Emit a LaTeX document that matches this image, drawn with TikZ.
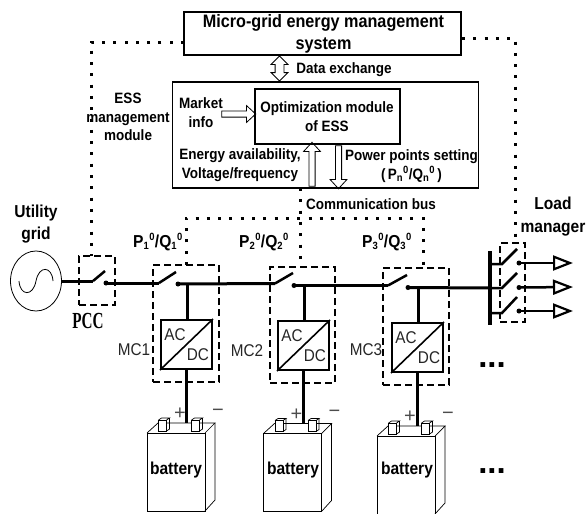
\documentclass[tikz,border=0pt]{standalone}
\usepackage{fontspec}
\setmainfont{Liberation Sans}
\usetikzlibrary{arrows.meta,shapes.arrows,shapes.geometric}
\newcommand{\pq}[1]{P$_{\mbox{\fontsize{10.5}{10.5}\selectfont\bfseries #1}}$$^{\mbox{\fontsize{10.5}{10.5}\selectfont\bfseries 0}}$/Q$_{\mbox{\fontsize{10.5}{10.5}\selectfont\bfseries #1}}$$^{\mbox{\fontsize{10.5}{10.5}\selectfont\bfseries 0}}$}
\tikzset{
  lbl/.style={font=\fontsize{15}{18.5}\selectfont\bfseries,align=center,inner sep=0pt,xscale=.9},
  biglbl/.style={font=\fontsize{17.3}{22.5}\selectfont\bfseries,align=center,inner sep=0pt,xscale=.9},
  plainlbl/.style={font=\fontsize{17}{18}\selectfont,inner sep=0pt,text=black!85,xscale=.9},
  mainbox/.style={draw,line width=1.5pt,inner sep=0pt},
  dashbox/.style={draw,dash pattern=on 7pt off 4pt,line width=1.2pt,inner sep=0pt},
  convbox/.style={draw,line width=2pt,inner sep=0pt,minimum width=51pt,minimum height=49pt},
  dotbus/.style={line width=3pt,dash pattern=on 3pt off 8.3pt},
  power/.style={line width=3pt},
  blade/.style={line width=2.5pt},
  contact/.style={circle,fill,inner sep=0pt,minimum size=5pt},
  blockarrow/.style={draw,single arrow,inner xsep=0pt,inner ysep=2.7pt,outer sep=0pt,line width=.8pt,minimum width=16pt,single arrow head extend=5.3pt,single arrow tip angle=85},
  loadtip/.style={line width=2.5pt,-{Triangle[open,length=20pt,width=15pt,line width=2.2pt]}},
  terminal/.pic={
    \draw[line width=.7pt,fill=white] (0,0) rectangle (8,11);
    \draw[line width=.7pt] (0,0) -- (3,-2) -- (11,-2) -- (8,0);
    \draw[line width=.7pt] (11,-2) -- (11,9) -- (8,11);
  },
  battery/.pic={
    \draw[line width=.9pt] (0,0) rectangle (58,78);
    \draw[line width=.7pt] (0,0) -- (11,-10) -- (68,-10) -- (58,0);
    \draw[line width=.7pt] (68,-10) -- (68,67) -- (58,78);
    \path (11.5,-13) pic {terminal};
    \path (44.5,-13) pic {terminal};
    \node[font=\fontsize{20}{20}\selectfont,inner sep=0pt,text=black!70] at (33,-19) {+};
    \node[font=\fontsize{20}{20}\selectfont,inner sep=0pt,text=black!70] at (71,-20) {\char"2212};
  }
}
\begin{document}
\begin{tikzpicture}[x=1pt,y=-1pt]
  \useasboundingbox (0,0) rectangle (587,514);

  \draw (322.5,33.5) node[mainbox,minimum width=277pt,minimum height=43pt] (ems) {};
  \draw (323.5,34) node[font=\fontsize{18}{22}\selectfont\bfseries,align=center,inner sep=0pt,xscale=.9] (emstext) {Micro-grid energy management\\system};
  \draw (325.5,135) node[mainbox,minimum width=306pt,minimum height=106pt] (ess) {};
  \draw (327.5,116.5) node[mainbox,minimum width=145pt,minimum height=55pt] (optim) {};
  \draw (327,116.5) node[lbl] (optimtext) {Optimization module\\of ESS};

  \draw (344,70) node[lbl] (exchange) {Data exchange};
  \draw (201,112.5) node[lbl] (market) {Market\\info};
  \draw (128,117) node[lbl] (module) {ESS\\management\\module};
  \draw (240,165) node[lbl] (energy) {Energy availability,\\Voltage/frequency};
  \draw (411.5,166) node[lbl] (setting) {Power points setting\\(\,\pq{n}\,)};
  \draw (371,204) node[lbl] (commbus) {Communication bus};

  \draw (279.5,68.5) node[draw,double arrow,inner xsep=0pt,inner ysep=4pt,outer sep=0pt,line width=.8pt,minimum width=16pt,minimum height=25pt,double arrow head extend=4pt,rotate=90] (dataarrow) {};
  \draw (237,114) node[blockarrow,minimum height=34pt] (marketarrow) {};
  \draw (312,166) node[blockarrow,minimum height=44pt,rotate=90] (availarrow) {};
  \draw (338.5,165.5) node[blockarrow,minimum height=43pt,rotate=-90] (setarrow) {};

  \draw (36,281) node[ellipse,draw,line width=.8pt,minimum width=51pt,minimum height=60pt,inner sep=0pt] (source) {};
  \draw[line width=.8pt] (19,281) .. controls (20,296) and (33,297) .. (36,281) .. controls (39,265) and (52,266) .. (53,281);
  \draw (36,224) node[biglbl] (utility) {Utility\\grid};
  \draw (97,280.5) node[dashbox,minimum width=36pt,minimum height=49pt] (pccbox) {};
  \draw (88,321) node[font=\fontsize{23}{23}\selectfont\bfseries,inner sep=0pt,xscale=.66] (pcc) {\fontspec{Liberation Serif}PCC};

  \draw (186,323.5) node[dashbox,minimum width=66pt,minimum height=117pt] (mc1) {};
  \draw (302.5,325) node[dashbox,minimum width=65pt,minimum height=116pt] (mc2) {};
  \draw (416,326.5) node[dashbox,minimum width=66pt,minimum height=117pt] (mc3) {};
  \draw (512.5,282.5) node[dashbox,minimum width=25pt,minimum height=79pt] (loadbox) {};

  \draw (134,350) node[plainlbl] (mclabel1) {MC1};
  \draw (247,351) node[plainlbl] (mclabel2) {MC2};
  \draw (366,350) node[plainlbl] (mclabel3) {MC3};

  \draw (186.5,344.5) node[convbox] (conv1) {};
  \draw (303.5,345.5) node[convbox] (conv2) {};
  \draw (417.5,347.5) node[convbox] (conv3) {};
  \path[-,line width=1.6pt] (conv1.south west) edge (conv1.north east);
  \path[-,line width=1.6pt] (conv2.south west) edge (conv2.north east);
  \path[-,line width=1.6pt] (conv3.south west) edge (conv3.north east);
  \draw (175,335) node[plainlbl] (ac1) {AC};
  \draw (198,355) node[plainlbl] (dc1) {DC};
  \draw (292,336) node[plainlbl] (ac2) {AC};
  \draw (315,356) node[plainlbl] (dc2) {DC};
  \draw (406,338) node[plainlbl] (ac3) {AC};
  \draw (429,358) node[plainlbl] (dc3) {DC};

  % dotted signal lines
  \coordinate (emsleft) at (184,42);
  \coordinate (pcctop) at (91,256);
  \coordinate (emsright) at (462,38);
  \coordinate (loadtop) at (515,243);
  \coordinate (busleft) at (186,218);
  \coordinate (busright) at (423,218);
  \coordinate (mctop1) at (186,265);
  \coordinate (mctop2) at (300.5,267);
  \coordinate (mctop3) at (423,268);
  \coordinate (esstap) at (300.5,188);
  \draw[dotbus] (emsleft) -| (pcctop);
  \draw[dotbus] (emsright) -| (loadtop);
  \draw[dotbus] (mctop1) -- (busleft) -- (busright) -- (mctop3);
  \path[dotbus] (esstap) edge (mctop2);

  % power line and switches
  \coordinate (pccin) at (93,281);
  \coordinate (pccend) at (105,271);
  \coordinate (sw1in) at (159,283);
  \coordinate (sw1end) at (176,272);
  \coordinate (sw2in) at (275,283.5);
  \coordinate (sw2end) at (293,273);
  \coordinate (sw3in) at (388,285.5);
  \coordinate (sw3end) at (407,275);
  \draw (106,283) node[contact] (pccdot) {};
  \draw (178,284) node[contact] (dot1) {};
  \draw (294,285.5) node[contact] (dot2) {};
  \draw (408,287.5) node[contact] (dot3) {};
  \draw (489.5,288) node[minimum width=4pt,minimum height=74pt,fill,inner sep=0pt] (loadbar) {};
  \draw[power] (source.east) -- (pccin);
  \draw[blade] (pccin) -- (pccend);
  \draw[power] (pccdot.center) -- (sw1in);
  \draw[blade] (sw1in) -- (sw1end);
  \draw[power] (dot1.center) -- (sw2in);
  \draw[blade] (sw2in) -- (sw2end);
  \draw[power] (dot2.center) -- (sw3in);
  \draw[blade] (sw3in) -- (sw3end);
  \draw[power] (dot3.center) -- (loadbar.center);

  % load feeders
  \coordinate (rowa) at (502,264);
  \coordinate (rowb) at (502,288);
  \coordinate (rowc) at (502,313);
  \coordinate (bladea) at (517,249);
  \coordinate (bladeb) at (517,273);
  \coordinate (bladec) at (517,297);
  \coordinate (tipa) at (573,263);
  \coordinate (tipb) at (573,287);
  \coordinate (tipc) at (573,311);
  \draw (519,263) node[contact] (dota) {};
  \draw (519,287.5) node[contact] (dotb) {};
  \draw (519,311) node[contact] (dotc) {};
  \draw[blade] (rowa -| loadbar) -- (rowa) -- (bladea);
  \draw[blade] (rowb -| loadbar) -- (rowb) -- (bladeb);
  \draw[blade] (rowc -| loadbar) -- (rowc) -- (bladec);
  \path[loadtip] (dota.center) edge (tipa);
  \path[loadtip] (dotb.center) edge (tipb);
  \path[loadtip] (dotc.center) edge (tipc);
  \draw (553,216.5) node[biglbl] (loadmgr) {Load\\manager};

  \draw (158,242) node[biglbl] (pq1) {\pq{1}};
  \draw (264,242) node[biglbl] (pq2) {\pq{2}};
  \draw (387,242) node[biglbl] (pq3) {\pq{3}};

  % batteries
  \path (147,433) pic {battery};
  \path (263.5,433.5) pic {battery};
  \path (377,436) pic {battery};
  \coordinate (busdrop1) at (187.5,284);
  \coordinate (busdrop2) at (304,285.5);
  \coordinate (busdrop3) at (418,287.5);
  \coordinate (batin1) at (186.5,423);
  \coordinate (batin2) at (303,423.5);
  \coordinate (batin3) at (417,426);
  \path[-,power] (busdrop1) edge (conv1.north -| busdrop1);
  \path[-,power] (busdrop2) edge (conv2.north -| busdrop2);
  \path[-,power] (busdrop3) edge (conv3.north -| busdrop3);
  \path[-,power] (conv1.south -| batin1) edge (batin1);
  \path[-,power] (conv2.south -| batin2) edge (batin2);
  \path[-,power] (conv3.south -| batin3) edge (batin3);
  \draw (176,470) node[biglbl] (bat1) {battery};
  \draw (293,470) node[biglbl] (bat2) {battery};
  \draw (407,470) node[biglbl] (bat3) {battery};

  \draw (492,365) node[font=\fontsize{33}{33}\selectfont\bfseries,inner sep=0pt] (moreupper) {...};
  \draw (492,471) node[font=\fontsize{33}{33}\selectfont\bfseries,inner sep=0pt] (morelower) {...};
\end{tikzpicture}
\end{document}
